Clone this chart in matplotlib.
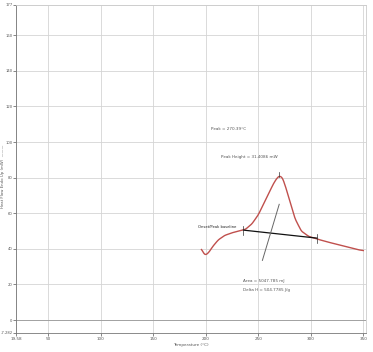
import numpy as np
import matplotlib.pyplot as plt

# heat flow curve
temp = [196, 198, 200, 203, 207, 212, 218, 225, 232, 238, 244, 250, 255, 260,
        264, 267, 270, 273, 276, 280, 285, 291, 298, 306, 315, 325, 335, 345, 350]
flow = [40, 37.5, 36.5, 38, 41.5, 45, 47.5, 49, 50, 51, 54, 59, 65, 71,
        76, 79, 81, 80, 75, 67, 57, 50, 47, 45.5, 44, 42.5, 41, 39.5, 39]

base_t = [236, 306]
base_y = [50.5, 46]

pointer_t = [254, 270]
pointer_y = [33.5, 65]

xticks = [19.58, 50, 100, 150, 200, 250, 300, 350]
xticklabels = ["19.58", "50", "100", "150", "200", "250", "300", "350"]
yticks = [-7.282, 0, 20, 40, 60, 80, 100, 120, 140, 160, 177]
yticklabels = ["-7.282", "0", "20", "40", "60", "80", "100", "120", "140", "160", "177"]

TXT = "#555555"
FS = 3.0

fig = plt.figure(figsize=(3.73, 3.52), dpi=100)
ax = fig.add_axes([0.043, 0.054, 0.938, 0.932])

ax.set_xlim(19.58, 352.5)
ax.set_ylim(-7.282, 177)
ax.set_xticks(xticks)
ax.set_xticklabels(xticklabels)
ax.set_yticks(yticks)
ax.set_yticklabels(yticklabels)
ax.tick_params(labelsize=FS, colors=TXT, length=2, width=0.5, pad=1)
ax.tick_params(axis="y", labelsize=2.7, pad=0.5)
ax.grid(True, color="#d4d4d4", lw=0.6)
ax.axhline(0, color="#999999", lw=0.6)
for s in ax.spines.values():
    s.set_color("#cccccc")
    s.set_linewidth(0.6)
ax.spines["left"].set_color("#777777")
ax.spines["bottom"].set_color("#777777")

# smooth the hand-read points for drawing
tt = np.linspace(temp[0], temp[-1], 400)
ff = np.interp(tt, temp, flow)
k = np.ones(7) / 7
ff_s = np.convolve(np.pad(ff, 3, mode="edge"), k, mode="valid")
ax.plot(tt, ff_s, color="#c0504d", lw=1.0)

ax.plot(base_t, base_y, color="#111111", lw=0.9)
for t, y in zip(base_t, base_y):
    ax.plot([t, t], [y - 2.5, y + 2.5], color="#333333", lw=0.5)
ax.plot([270, 270], [80.5, 83], color="#333333", lw=0.5)
ax.plot(pointer_t, pointer_y, color="#666666", lw=0.7)

ax.text(193, 51.5, "Onset/Peak baseline", fontsize=2.7, color="#222222")
ax.text(205, 107, "Peak = 270.39°C", fontsize=FS, color=TXT)
ax.text(215, 91, "Peak Height = 31.4086 mW", fontsize=FS, color=TXT)
ax.text(236, 21.5, "Area = 5047.785 mJ", fontsize=FS, color=TXT)
ax.text(236, 16.5, "Delta H = 504.7785 J/g", fontsize=FS, color=TXT)

ax.set_xlabel("Temperature (°C)", fontsize=FS, color=TXT, labelpad=1.5)
fig.text(0.002, 0.50, "Heat Flow Endo Up (mW)  ———", fontsize=2.8, color=TXT,
         rotation=90, ha="left", va="center")

fig.savefig("out.png", dpi=100)
